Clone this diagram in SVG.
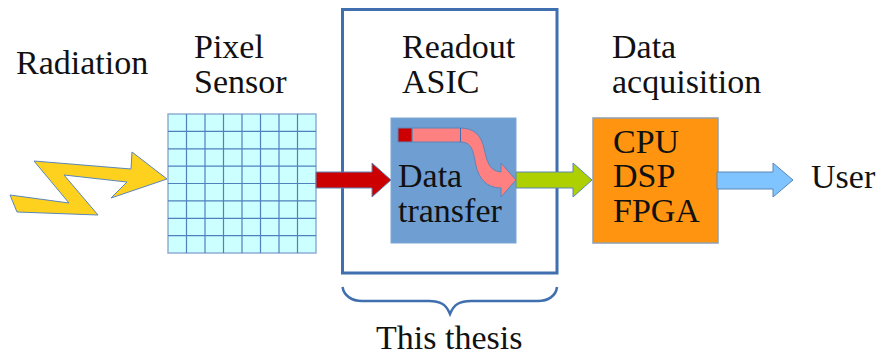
<svg xmlns="http://www.w3.org/2000/svg" width="877" height="356" viewBox="0 0 877 356">
<style>
text{font-family:"Liberation Serif","Times New Roman",serif;fill:#111;font-size:34px}
.grid{stroke:#4f81bd;stroke-width:1.2;fill:none}
.arrow{stroke:#5b86b8;stroke-width:1}
</style>
<rect width="877" height="356" fill="#fff"/>
<g id="radiation-label"><text x="16" y="74">Radiation</text></g>
<g id="pixel-sensor">
<text x="194" y="58">Pixel</text><text x="194" y="93">Sensor</text>
<rect x="168" y="114" width="148" height="139" fill="#ccffff" stroke="#8eaed4" stroke-width="1.5"/>
<path class="grid" d="M186.500 114V253M205 114V253M223.500 114V253M242 114V253M260.500 114V253M279 114V253M297.500 114V253M168 131.400H316M168 148.800H316M168 166.100H316M168 183.500H316M168 200.900H316M168 218.300H316M168 235.600H316"/>
</g>
<g id="radiation"><path d="M10 195L69 203L34 161L131 169L132 152L167 179L111 198L127 182L64 175L98 215L17 212Z" fill="#ffd11f" stroke="#5b86b8" stroke-width="1"/></g>
<g id="readout-asic">
<rect x="342.500" y="9.500" width="214.500" height="263.500" fill="none" stroke="#3f6fae" stroke-width="3"/>
<text x="402" y="58">Readout</text><text x="402" y="93">ASIC</text>
</g>
<g id="data-transfer">
<rect x="391" y="118" width="125" height="125" fill="#6f9ed2" stroke="#7da7d6"/>
<path d="M412 128H460C474 128 481 135 484 148C487 163 490 171 501 172V163L516 180L501 197V188C486 188 479 178 476 166C473 150 472 142 460 142H412Z" fill="#ff8080" stroke="#5b86b8" stroke-width="1"/>
<path d="M460.500 128V142" stroke="#3f6fae" fill="none"/>
<rect x="398" y="128" width="14" height="14" fill="#cc0000" stroke="#5b86b8"/>
<text x="398" y="187">Data</text>
<text x="398" y="222">transfer</text>
</g>
<g id="data-acquisition">
<text x="612" y="58">Data</text><text x="612" y="93">acquisition</text>
<rect x="593" y="118" width="125" height="125" fill="#ff9410" stroke="#8fa0ae" stroke-width="1.500"/>
<text x="613" y="153">CPU</text>
<text x="613" y="187">DSP</text>
<text x="613" y="222">FPGA</text>
</g>
<g id="user"><text x="811" y="188">User</text></g>
<g id="connectors">
<path class="arrow" d="M316 172H372V163L391 180L372 197V188H316Z" fill="#cc0000"/>
<path class="arrow" d="M516 172H573V163L592 180L573 197V188H516Z" fill="#afd000"/>
<path class="arrow" d="M717 172H773V163L793 180L773 197V189H717Z" fill="#80c4ff"/>
</g>
<g id="this-thesis">
<path d="M342.500 287C344 296 352 301 362 301H429C440 301 446 304 450 314C454 304 460 301 471 301H538C548 301 556 296 557 287" fill="none" stroke="#3f6fae" stroke-width="2.500"/>
<text x="376" y="349">This thesis</text>
</g>
</svg>
